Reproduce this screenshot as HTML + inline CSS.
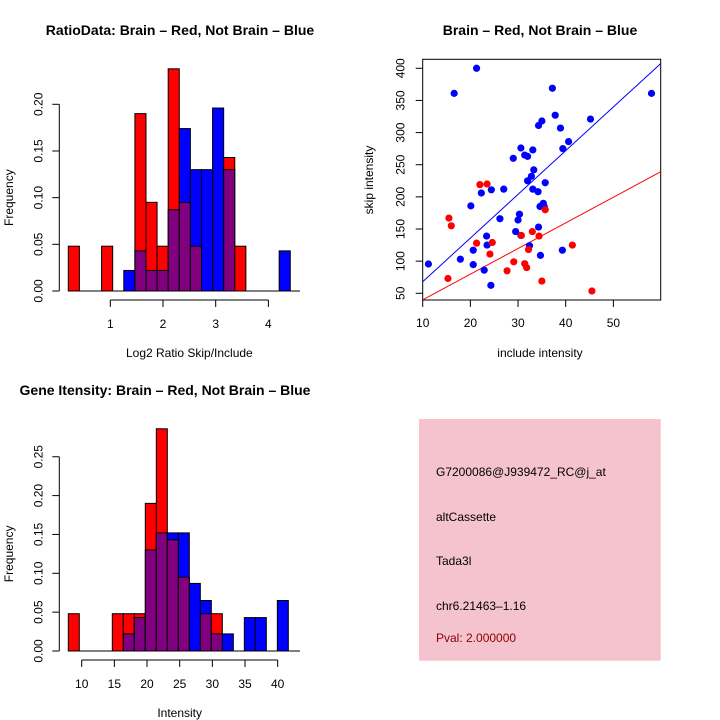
<!DOCTYPE html>
<html><head><meta charset="utf-8"><style>
html,body{margin:0;padding:0;background:#fff;}
svg{display:block;font-family:"Liberation Sans",sans-serif;}
</style></head><body>
<svg id="c" width="720" height="720" viewBox="0 0 720 720"></svg>
<script>
// ---- Histogram 1 data (Log2 ratio) ----
const h1Red = [0.048,0,0,0.048,0,0,0.19,0.095,0.048,0.238,0.095,0.048,0,0,0.143,0.048,0,0,0,0];
const h1Blue = [0,0,0,0,0,0.022,0.043,0.022,0.022,0.087,0.174,0.13,0.13,0.196,0.13,0,0,0,0,0.043];
const h1XTicks = [1,2,3,4];
const h1YTicks = [0,0.05,0.10,0.15,0.20];
// ---- Histogram 2 data (Intensity) ----
const h2Red = [0.048,0,0,0,0.048,0.048,0.048,0.19,0.286,0.143,0.095,0,0.048,0.048,0,0,0,0,0,0];
const h2Blue = [0,0,0,0,0,0.022,0.043,0.13,0.152,0.152,0.152,0.087,0.065,0.022,0.022,0,0.043,0.043,0,0.065];
const h2XTicks = [10,15,20,25,30,35,40];
const h2YTicks = [0,0.05,0.10,0.15,0.20,0.25];
// ---- Scatter data ----
const blueX = [11.2,21.3,16.6,37.2,37.8,35.0,34.3,38.9,45.2,58.0,40.6,39.4,30.6,33.1,31.4,32.0,29.0,33.3,32.8,32.0,35.7,27.0,24.4,33.1,34.2,22.3,20.1,35.3,34.6,35.5,30.3,26.2,30.0,34.3,29.5,30.6,23.4,23.5,32.4,20.6,17.9,34.7,39.3,20.6,22.9,24.3];
const blueY = [95.6,400,361,369,327,318,311,307,321,361,286,275,276,273,265,263,260,242,232,225,222,212,211,212,208,206,186,190,185,185,173,166,164,153,146,140,139,125,124,117,103,109,117,94.6,86,62.4];
const redX = [22.0,23.5,15.5,16.0,21.3,24.6,24.1,30.7,33.0,34.4,35.7,32.2,29.1,31.4,31.8,27.7,15.3,35.0,41.4,45.5];
const redY = [219,220,167,155,128,129,111,140,146,139,180,118,99,96,90,85,73,69,125,53.6];
const scXTicks = [10,20,30,40,50];
const scYTicks = [50,100,150,200,250,300,350,400];

const NS="http://www.w3.org/2000/svg";
const svg=document.getElementById('c');
function el(tag,attrs,parent){const e=document.createElementNS(NS,tag);for(const k in attrs)e.setAttribute(k,attrs[k]);(parent||svg).appendChild(e);return e;}
function txt(s,x,y,attrs,parent){const t=el('text',Object.assign({x:x,y:y,'font-size':12,'text-anchor':'middle',fill:'#000'},attrs||{}),parent);t.textContent=s;return t;}

function hist(name,red,blue,x0,bw,xs,ys,yAxisX,xAxisY,xTicks,yTicks,title,tx,ty,xlab,xlabY){
  const g=el('g',{});
  
  
  const t=txt(title,tx,ty,{'font-weight':'bold','font-size':14},g);
  
  
  const n=red.length;
  for(let i=0;i<n;i++){
    const a=x0+i*bw,b=x0+(i+1)*bw;
    const xa=xs(a),xb=xs(b);
    const r=red[i],bl=blue[i];
    const draws=[];
    if(r>=bl){draws.push(['#ff0000',r]);if(bl>0)draws.push(['#800080',bl]);}
    else{draws.push(['#0000ff',bl]);if(r>0)draws.push(['#800080',r]);}
    draws.forEach(d=>{
      if(d[1]<=0)return;
      const rc=el('rect',{x:xa,y:ys(d[1]),width:xb-xa,height:ys(0)-ys(d[1]),fill:d[0],stroke:'#000','stroke-width':1},g);
      
      
    });
  }
  el('line',{x1:xs(x0),x2:300,y1:ys(0),y2:ys(0),stroke:'#000','stroke-width':1},g);
  const yt=yTicks;
  el('line',{x1:yAxisX,x2:yAxisX,y1:ys(yt[0]),y2:ys(yt[yt.length-1]),stroke:'#000'},g);
  yt.forEach(v=>{const y=ys(v);el('line',{x1:yAxisX-7,x2:yAxisX,y1:y,y2:y,stroke:'#000'},g);
    const l=txt(v.toFixed(2),0,0,{transform:'translate('+(yAxisX-17)+','+y+') rotate(-90)','font-size':12},g);
    });
  el('line',{x1:xs(xTicks[0]),x2:xs(xTicks[xTicks.length-1]),y1:xAxisY,y2:xAxisY,stroke:'#000'},g);
  xTicks.forEach(v=>{const x=xs(v);el('line',{x1:x,x2:x,y1:xAxisY,y2:xAxisY+7,stroke:'#000'},g);
    const l=txt(String(v),x,xAxisY+28,{},g);});
  const xl=txt(xlab,(xs(xTicks[0])+xs(xTicks[xTicks.length-1]))/2,xlabY,{},g);
  
  const yl=txt('Frequency',0,0,{transform:'translate(13,'+((ys(0)+ys(yt[yt.length-1]))/2)+') rotate(-90)'},g);
  
}

const h1xs=v=>110.3+(v-1)*52.7, h1ys=v=>291-v*933.5;
hist('ratio-histogram',h1Red,h1Blue,0.203,0.2106,h1xs,h1ys,59.3,300,h1XTicks,h1YTicks,'RatioData: Brain \u2013 Red, Not Brain \u2013 Blue',180,35,'Log2 Ratio Skip/Include',357);
const h2xs=v=>81.7+(v-10)*6.533, h2ys=v=>651-v*777;
hist('intensity-histogram',h2Red,h2Blue,7.95,1.684,h2xs,h2ys,59.3,660,h2XTicks,h2YTicks,'Gene Itensity: Brain \u2013 Red, Not Brain \u2013 Blue',165,395,'Intensity',717);

(function(){
  const g=el('g',{});
  
  
  const sx=v=>422.7+(v-10)*4.767, sy=v=>293.3-(v-50)*0.6429;
  const L=422.7,R=660.7,T=59.3,B=300;
  const t=txt('Brain \u2013 Red, Not Brain \u2013 Blue',540,35,{'font-weight':'bold','font-size':14},g);
  
  const defs=el('clipPath',{id:'clip'},g);el('rect',{x:L,y:T,width:R-L,height:B-T},defs);
  el('rect',{x:L,y:T,width:R-L,height:B-T,fill:'none',stroke:'#000'},g);
  scXTicks.forEach(v=>{const x=sx(v);el('line',{x1:x,x2:x,y1:B,y2:B+7,stroke:'#000'},g);
    const l=txt(String(v),x,B+27,{},g);});
  scYTicks.forEach(v=>{const y=sy(v);el('line',{x1:L-7,x2:L,y1:y,y2:y,stroke:'#000'},g);
    const l=txt(String(v),0,0,{transform:'translate('+(L-18)+','+y+') rotate(-90)'},g);});
  const xl=txt('include intensity',540,357,{},g);
  const yl=txt('skip intensity',0,0,{transform:'translate(373,180) rotate(-90)'},g);
  function slope(xs,ys){let a=0,b=0;for(let i=0;i<xs.length;i++){a+=xs[i]*ys[i];b+=xs[i]*xs[i];}return a/b;}
  const lg=el('g',{'clip-path':'url(#clip)'},g);
  [[blueX,blueY,'#0000ff','blue'],[redX,redY,'#ff0000','red']].forEach(s=>{
    const m=slope(s[0],s[1]);
    const ln=el('line',{x1:sx(0),y1:sy(0),x2:sx(70),y2:sy(70*m),stroke:s[2],'stroke-width':1},lg);
    
  });
  [[blueX,blueY,'#0000ff','blue'],[redX,redY,'#ff0000','red']].forEach(s=>{
    for(let i=0;i<s[0].length;i++){
      const c=el('circle',{cx:sx(s[0][i]),cy:sy(s[1][i]),r:3.6,fill:s[2]},g);
      
    }
  });
})();

(function(){
  const g=el('g',{});
  
  
  el('rect',{x:419,y:419,width:241.7,height:241.7,fill:'#f5c3cd'},g);
  const lines=[['G7200086@J939472_RC@j_at',476,'#000','probe-id'],['altCassette',521,'#000','event-type'],['Tada3l',565,'#000','gene-name'],['chr6.21463\u20131.16',610,'#000','location'],['Pval: 2.000000',642,'#8b0000','pvalue']];
  lines.forEach(l=>{const t=txt(l[0],436,l[1],{'text-anchor':'start',fill:l[2]},g);
    });
})();
</script>
</body></html>
